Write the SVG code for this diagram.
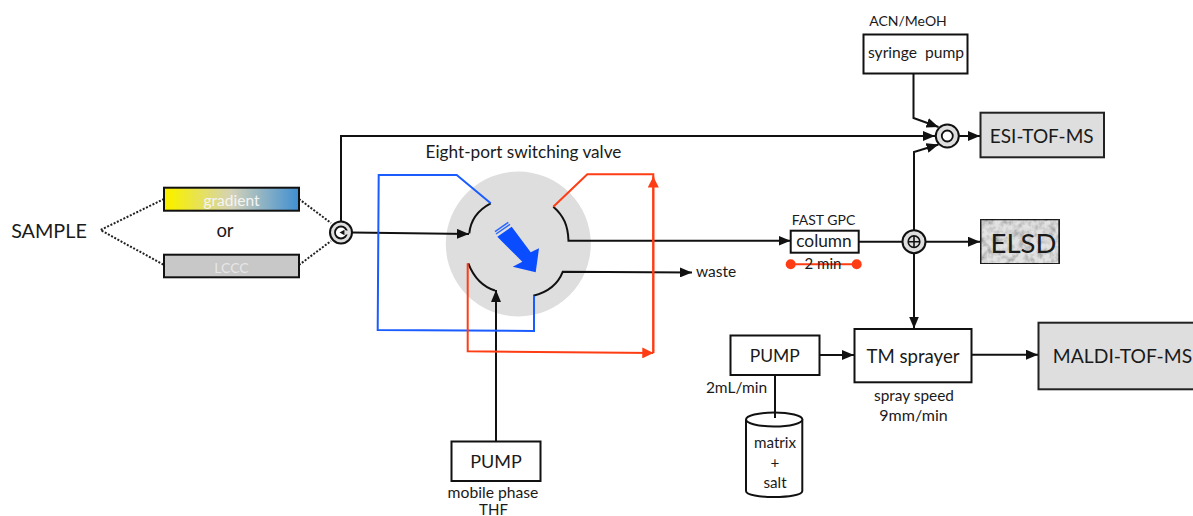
<svg xmlns="http://www.w3.org/2000/svg" width="1193" height="516" viewBox="0 0 1193 516">
<style>
text{font-family:"Lato","Open Sans","Liberation Sans",sans-serif;fill:#1a1a1a;text-anchor:middle}
.box{stroke:#111;stroke-width:2;fill:#fff}
.grey{stroke:#222;stroke-width:2;fill:#dedede}
.k{fill:none;stroke:#111;stroke-width:2}
.dot{fill:none;stroke:#222;stroke-width:2;stroke-dasharray:2 1.6}
.blue{fill:none;stroke:#1a5cff;stroke-width:2}
.red{fill:none;stroke:#ff3d14;stroke-width:2}
.circ{fill:#dedede;stroke:#111;stroke-width:2}
</style>
<defs>
<linearGradient id="grad" x1="0" x2="1" y1="0" y2="0"><stop offset="0.05" stop-color="#f8f000"/><stop offset="0.5" stop-color="#d4d2b8"/><stop offset="1" stop-color="#3f8fd2"/></linearGradient>
<marker id="ah" markerUnits="userSpaceOnUse" viewBox="0 0 12 10" refX="12" refY="5" markerWidth="12" markerHeight="10" orient="auto"><path d="M0 0L12 5L0 10Z" fill="#111"/></marker>
<marker id="ar" markerUnits="userSpaceOnUse" viewBox="0 0 11 11" refX="11" refY="5.5" markerWidth="11" markerHeight="11" orient="auto"><path d="M0 0L11 5.500L0 11Z" fill="#ff3d14"/></marker>
<filter id="mottle" x="0" y="0" width="1" height="1"><feTurbulence type="fractalNoise" baseFrequency="0.16" numOctaves="3" seed="4"/><feColorMatrix values="0 0 0 0 0  0 0 0 0 0  0 0 0 0 0  1.100 0 0 0 -0.420"/><feComposite in2="SourceGraphic" operator="in"/><feMerge><feMergeNode in="SourceGraphic"/><feMergeNode/></feMerge></filter>
</defs>

<g id="valve-disc"><circle cx="518.300" cy="244" r="72.500" fill="#dedede"/></g>

<g id="connectors">
<path class="dot" d="M164 199L100.500 230L164 265"/>
<path class="dot" d="M299 199L331 223M299 265L331 241"/>
<path class="k" d="M341 221V136H935" marker-end="url(#ah)"/>
<path class="k" d="M352 232.500L469 234" marker-end="url(#ah)"/>
<path class="k" d="M913.500 73V118L938.500 127" marker-end="url(#ah)"/>
<path class="k" d="M914 230V152L938.500 144.500" marker-end="url(#ah)"/>
<path class="k" d="M959 136H980" marker-end="url(#ah)"/>
<path class="k" d="M490.700 203.300C478 210 470.500 220 469.300 233.500"/>
<path class="k" d="M553.300 206.700C564 216 568 226 568.500 240.800H790.500" marker-end="url(#ah)"/>
<path class="k" d="M468.300 263.300C474 278 484 287 495 290.500"/>
<path class="k" d="M533.300 295.700C548 292 558 284 562.700 271.800L692 272.500" marker-end="url(#ah)"/>
<path class="k" d="M496 441V290" marker-end="url(#ah)"/>
<path class="k" d="M859 241.700H902.500"/>
<path class="k" d="M925.500 241.700H980" marker-end="url(#ah)"/>
<path class="k" d="M914 253V328.500" marker-end="url(#ah)"/>
<path class="k" d="M819.500 355H854" marker-end="url(#ah)"/>
<path class="k" d="M972 354.700H1038" marker-end="url(#ah)"/>
<path class="k" d="M775 375V418"/>
<path class="blue" d="M490.700 203.300L456.700 175H378.700L377.700 330L534 331V295.700"/>
<path class="red" d="M553.300 206.700L587.300 174.300H653.300V353"/>
<path class="red" d="M653.300 353V176.500" marker-end="url(#ar)"/>
<path class="red" d="M467.700 263.300V351.300L653.300 353" marker-end="url(#ar)"/>
</g>

<g id="valve-arrow">
<path d="M497.300 236.700L511.700 226.700L530.700 252.300L539 248.300L535.700 272.300L512.700 266.700L522.300 261.700Z" fill="#0a4cff"/>
<path d="M495 231.700L508.300 222.300M496 234L510 224.300" stroke="#2a66ff" stroke-width="1.500" fill="none"/>
</g>

<g id="sample"><text x="49" y="237.500" font-size="19.800">SAMPLE</text></g>
<g id="gradient"><rect class="box" x="164" y="187.700" width="135" height="23" style="fill:url(#grad)"/><text x="231.500" y="206" font-size="15.500" style="fill:#f4f4f4">gradient</text></g>
<g id="or"><text x="225" y="237" font-size="18.500">or</text></g>
<g id="lccc"><rect class="box" x="164" y="254.700" width="135" height="22.600" style="fill:#c8c8c8"/><text x="231.500" y="273" font-size="14" style="fill:#e6e6e6">LCCC</text></g>
<g id="injector"><circle class="circ" cx="341" cy="232.500" r="11"/><circle cx="341" cy="232.500" r="6" fill="#fff" stroke="#111" stroke-width="1.800"/><path d="M345 230.500H348.500V234.500H345Z" fill="#dedede"/><path d="M339.500 232.500L344.500 229.800V235.200Z" fill="#111"/></g>
<g id="valve-label"><text x="523.500" y="158" font-size="17.200">Eight-port switching valve</text></g>
<g id="waste"><text x="716" y="276.500" font-size="15.500">waste</text></g>
<g id="column"><text x="823.500" y="225" font-size="14">FAST GPC</text><rect class="box" x="790.700" y="230.700" width="68" height="22"/><text x="824" y="246.500" font-size="17.300">column</text>
<path d="M790.700 264.300H856.700" stroke="#ff3d14" stroke-width="2"/><circle cx="790.700" cy="264.300" r="5" fill="#ff3d14"/><circle cx="856.700" cy="264.300" r="5" fill="#ff3d14"/><text x="823" y="269" font-size="15">2 min</text></g>
<g id="mixer"><circle class="circ" cx="914" cy="241.700" r="11.500"/><circle cx="914" cy="241.700" r="5.800" fill="none" stroke="#111" stroke-width="1.600"/><path d="M908.200 241.700H919.800M914 235.900V247.500" stroke="#111" stroke-width="1.600"/></g>
<g id="esi-tee"><circle class="circ" cx="947.300" cy="136" r="11.500"/><circle cx="947.300" cy="136" r="5.500" fill="#fff" stroke="#111" stroke-width="1.800"/></g>
<g id="syringe"><text x="908" y="26" font-size="14">ACN/MeOH</text><rect class="box" x="863.500" y="34.500" width="104" height="39"/><text x="916" y="58" font-size="15.600" xml:space="preserve">syringe  pump</text></g>
<g id="esi"><rect class="grey" x="980.500" y="112.700" width="123.500" height="44.600"/><text x="1041.700" y="143" font-size="19">ESI-TOF-MS</text></g>
<g id="elsd"><rect class="grey" x="980.500" y="219.300" width="78.800" height="44.700" filter="url(#mottle)" style="fill:#e2e2e2"/><text x="1023.500" y="252.700" font-size="27.500">ELSD</text></g>
<g id="pump-main"><rect class="box" x="451.500" y="441.500" width="89" height="39.500"/><text x="496" y="468" font-size="18">PUMP</text><text x="493" y="498" font-size="15.700">mobile phase</text><text x="493.500" y="515" font-size="15">THF</text></g>
<g id="pump-matrix"><rect class="box" x="730.500" y="335.500" width="89" height="39.500"/><text x="774.700" y="362" font-size="17.500">PUMP</text><text x="736.500" y="392.500" font-size="15.500">2mL/min</text></g>
<g id="tm"><rect class="box" x="854.500" y="329" width="117" height="53.300"/><text x="913" y="363" font-size="18.600">TM sprayer</text><text x="914" y="400.500" font-size="15.400">spray speed</text><text x="913.500" y="420.500" font-size="16">9mm/min</text></g>
<g id="maldi"><rect class="grey" x="1038.500" y="322.700" width="160" height="66.600"/><text x="1122.500" y="363" font-size="19.300">MALDI-TOF-MS</text></g>
<g id="cylinder"><path class="box" d="M746 419.500V491C746 499 802.300 499 802.300 491V419.500"/><ellipse class="box" cx="774.200" cy="419.500" rx="28.200" ry="7"/><path class="k" d="M775 412V418"/><text x="775" y="448" font-size="15.200">matrix</text><text x="775" y="468" font-size="15.200">+</text><text x="775" y="488" font-size="15.200">salt</text></g>
</svg>
